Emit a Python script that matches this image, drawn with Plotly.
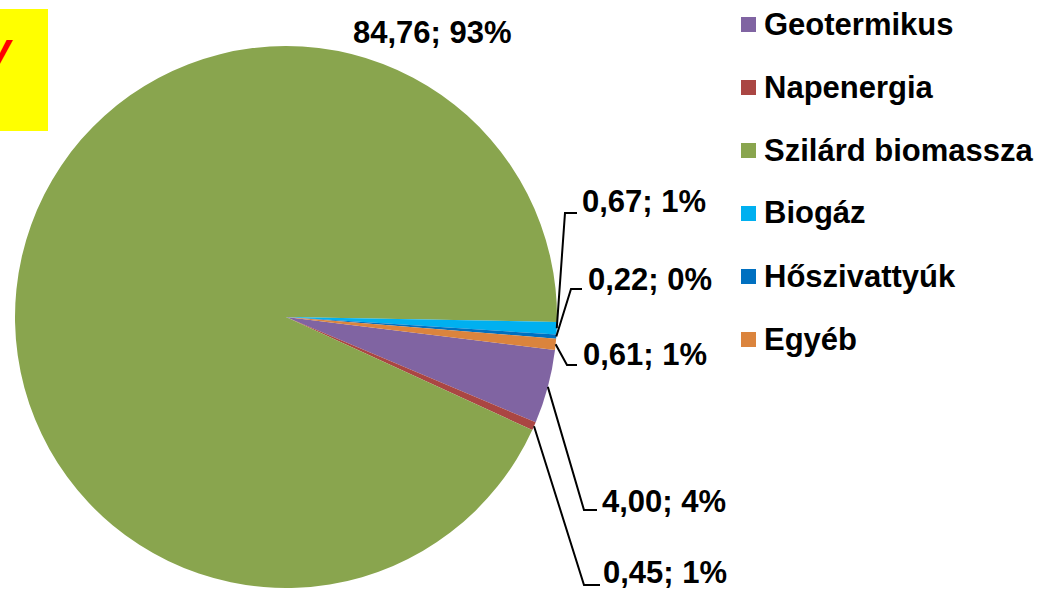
import math
import plotly.graph_objects as go

# ---- data ----
categories = ["Geotermikus", "Napenergia", "Szilárd biomassza", "Biogáz", "Hőszivattyúk", "Egyéb"]
values = [4.00, 0.45, 84.76, 0.67, 0.22, 0.61]
pct_labels = ["4%", "1%", "93%", "1%", "0%", "1%"]
colors = ["#8064A2", "#AA4643", "#89A54E", "#00B0F0", "#0070C0", "#DB843D"]

# ---- layout constants (pixels) ----
W, H = 1045, 590
CX, CY, R = 286, 317, 271
ROT = 97
FONT = "Liberation Sans, Arial, sans-serif"
FS = 31

# label placement: (text_left_x or center, text_center_y, knee_x, knee_y, end_x) ; None => no leader
label_pos = {
    "Geotermikus": (601, 501, 584, 510, 597),
    "Napenergia": (602, 572, 584, 585, 600),
    "Szilárd biomassza": (432, 32, None, None, None),
    "Biogáz": (581, 202, 565, 213, 577),
    "Hőszivattyúk": (587, 279, 571, 289, 582),
    "Egyéb": (582, 354, 567, 365, 577),
}


def px(x):
    return x / W


def py(y):
    return 1 - y / H


fig = go.Figure()
fig.add_trace(go.Pie(
    labels=categories,
    values=values,
    sort=False,
    direction="clockwise",
    rotation=ROT,
    marker=dict(colors=colors, line=dict(width=0)),
    textinfo="none",
    showlegend=False,
    domain=dict(x=[px(CX - R), px(CX + R)], y=[py(CY + R), py(CY - R)]),
))

annotations = []
shapes = []

# yellow box with partially visible red title letter
shapes.append(dict(type="rect", xref="paper", yref="paper",
                   x0=px(-5), x1=px(48), y0=py(131), y1=py(9),
                   fillcolor="#FFFF00", line=dict(width=0), layer="below"))
annotations.append(dict(xref="paper", yref="paper", x=px(15), y=py(54),
                        xanchor="right", yanchor="middle", showarrow=False,
                        text="<b><i>V</i></b>",
                        font=dict(family=FONT, size=42, color="#FF0000")))

# data labels with leader lines
total = sum(values)
cum = 0.0
for cat, v, pct in zip(categories, values, pct_labels):
    mid = ROT + (cum + v / 2) / total * 360.0
    cum += v
    text = f"<b>{v:.2f}".replace(".", ",") + f"; {pct}</b>"
    lx, ly, kx, ky, ex = label_pos[cat]
    if kx is None:
        annotations.append(dict(xref="paper", yref="paper", x=px(lx), y=py(ly),
                                xanchor="center", yanchor="middle", showarrow=False,
                                borderpad=0,
                                text=text, font=dict(family=FONT, size=FS, color="#000000")))
        continue
    sx = CX + R * math.sin(math.radians(mid))
    sy = CY - R * math.cos(math.radians(mid))
    path = f"M {px(sx)} {py(sy)} L {px(kx)} {py(ky)} L {px(ex)} {py(ky)}"
    shapes.append(dict(type="path", xref="paper", yref="paper", path=path,
                       line=dict(color="#000000", width=2)))
    annotations.append(dict(xref="paper", yref="paper", x=px(lx), y=py(ly),
                            xanchor="left", yanchor="middle", showarrow=False,
                            borderpad=0,
                            text=text, font=dict(family=FONT, size=FS, color="#000000")))

# legend
for i, (cat, col) in enumerate(zip(categories, colors)):
    yc = 24 + 63 * i
    shapes.append(dict(type="rect", xref="paper", yref="paper",
                       x0=px(741), x1=px(756), y0=py(yc + 8), y1=py(yc - 7),
                       fillcolor=col, line=dict(width=0)))
    annotations.append(dict(xref="paper", yref="paper", x=px(762), y=py(yc),
                            xanchor="left", yanchor="middle", showarrow=False,
                            text=f"<b>{cat}</b>",
                            font=dict(family=FONT, size=FS, color="#000000")))

fig.update_layout(
    width=W, height=H,
    margin=dict(l=0, r=0, t=0, b=0),
    paper_bgcolor="white",
    plot_bgcolor="white",
    showlegend=False,
    annotations=annotations,
    shapes=shapes,
)

fig.write_html("out.html",
               config={"displayModeBar": False},
               post_script="document.body.style.margin='0';document.body.style.overflow='hidden';")
